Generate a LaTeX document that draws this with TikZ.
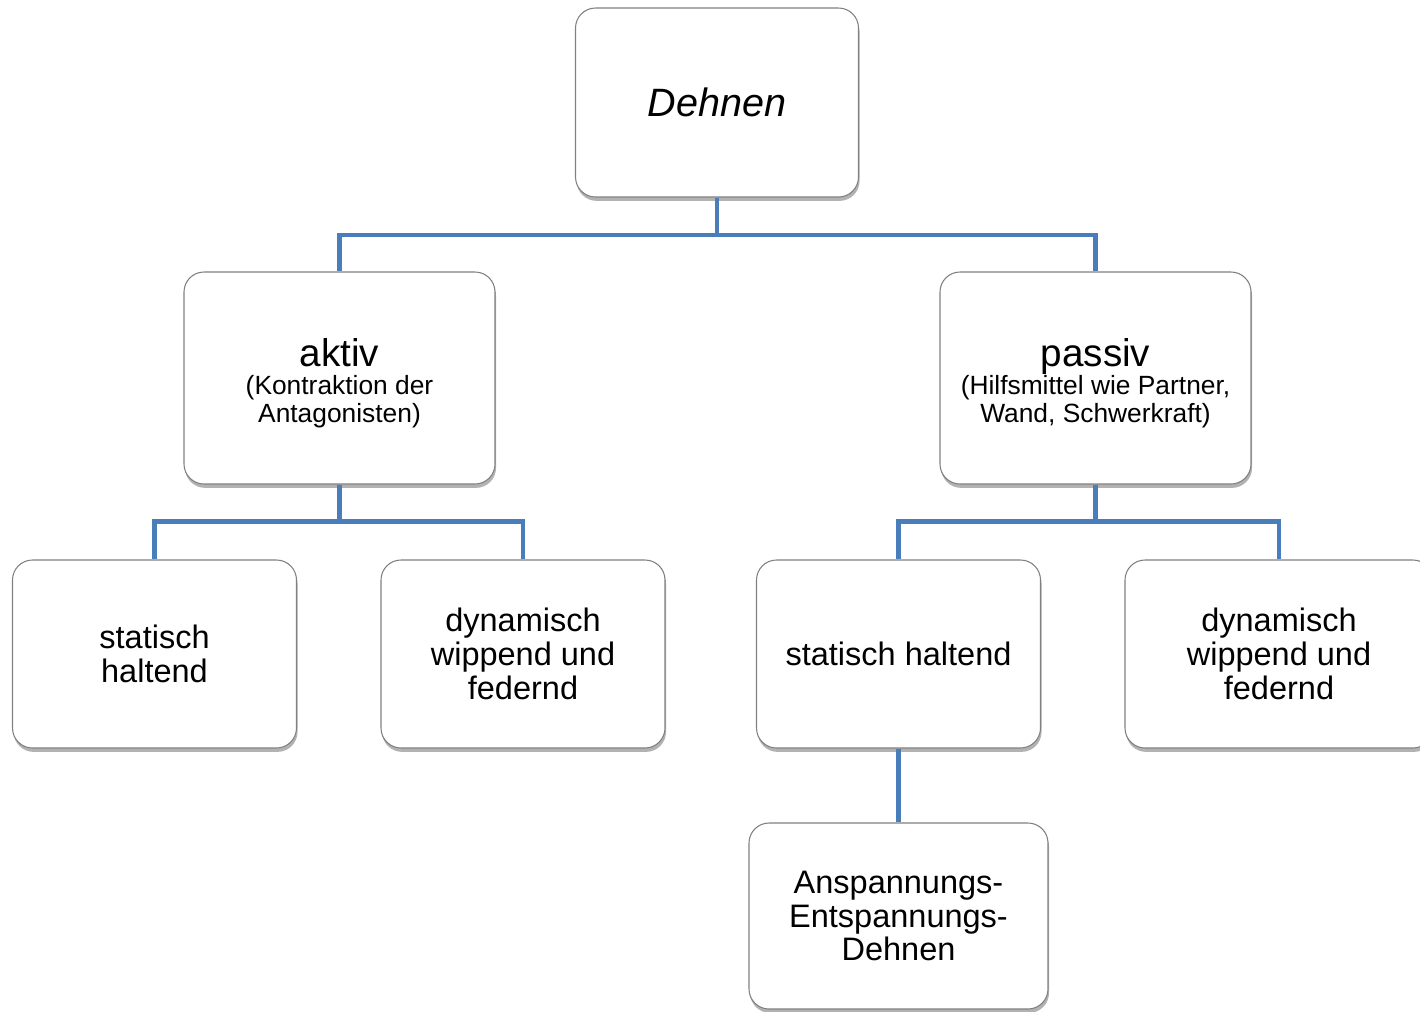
\documentclass[tikz,border=0pt]{standalone}
\usepackage{fontspec}
\setmainfont{Liberation Sans}
\usetikzlibrary{positioning, shadows}
\definecolor{linkcolor}{RGB}{74, 126, 187}
\definecolor{framecolor}{RGB}{128, 128, 128}
\newcommand{\headline}{\fontsize{22}{24}\selectfont\rule{0pt}{21.7pt}}
\newcommand{\subline}{\fontsize{15}{16}\selectfont}

\begin{document}
\begin{tikzpicture}[
    box/.style={rectangle, draw=framecolor, line width=0.6pt, fill=white, rounded corners=0.4cm, align=center,
        drop shadow={shadow xshift=0.6pt, shadow yshift=-2.2pt, opacity=0.3, fill=black},
        font=\fontsize{18.5}{19.3}\selectfont},
    topbox/.style={box, minimum width=5.66cm, minimum height=3.78cm, font=\fontsize{22.5}{24}\selectfont\itshape},
    midbox/.style={box, minimum width=6.22cm, minimum height=4.24cm},
    leafbox/.style={box, minimum width=5.68cm, minimum height=3.76cm},
    conn/.style={draw=linkcolor, line width=2.8pt},
]
\useasboundingbox (0,0) rectangle (28.4,-20.22);

% ============ Ebene 1 ============
\node[topbox] (dehnen) at (14.34,-2.05) {Dehnen};

% ============ Ebene 2 ============
\node[midbox] (aktiv) at (6.79,-7.56) {\headline aktiv\\[-3pt] \subline (Kontraktion der\\[-3.4pt] \subline Antagonisten)};
\node[midbox] (passiv) at (21.91,-7.56) {\headline passiv\\[-3pt] \subline (Hilfsmittel wie Partner,\\[-3.4pt] \subline Wand, Schwerkraft)};

% ============ Ebene 3 ============
\node[leafbox] (stat_a) at (3.09,-13.08) {statisch\\haltend};
\node[leafbox] (dyn_a) at (10.46,-13.08) {dynamisch\\wippend und\\federnd};
\node[leafbox] (stat_p) at (17.97,-13.08) {statisch haltend};
\node[leafbox, minimum width=6.16cm] (dyn_p) at (25.58,-13.08) {dynamisch\\wippend und\\federnd};

% ============ Ebene 4 ============
\node[leafbox, minimum width=5.98cm, minimum height=3.72cm] (aed) at (17.97,-18.32) {Anspannungs-\\Entspannungs-\\Dehnen};

% ============ Verbindungen ============
\draw[conn] (dehnen.south) -- ++(0,-0.75) -| (aktiv.north);
\draw[conn] (dehnen.south) -- ++(0,-0.75) -| (passiv.north);

\draw[conn] (aktiv.south) -- ++(0,-0.74) -| (stat_a.north);
\draw[conn] (aktiv.south) -- ++(0,-0.74) -| (dyn_a.north);

\draw[conn] (passiv.south) -- ++(0,-0.74) -| (stat_p.north);
\draw[conn] (passiv.south) -- ++(0,-0.74) -| (dyn_p.north);

\draw[conn] (stat_p.south) -- (aed.north);

\end{tikzpicture}
\end{document}
